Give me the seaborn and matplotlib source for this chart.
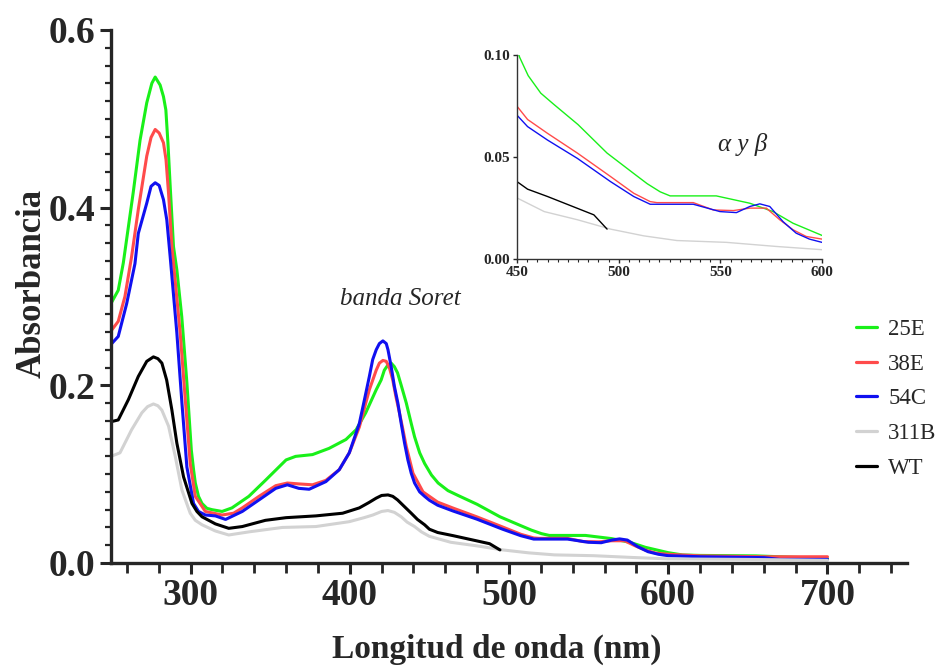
import numpy as np
import pandas as pd
import matplotlib
matplotlib.use("Agg")
import matplotlib.pyplot as plt
from matplotlib.ticker import MultipleLocator, FormatStrFormatter
import seaborn as sns

# UV-Vis absorption spectra of the cytochrome variants
nm_25E = [250, 254.6, 257.8, 264, 268.3, 272.5, 275.7, 277.8, 280.9, 283, 284.5, 285.8,
          287.2, 289.3, 291.4, 294.5, 297.7, 300.5, 301.9, 303, 305, 307.2, 310.3, 313.5,
          319.8, 326, 336.6, 347, 360, 366, 376.6, 387, 397.6, 404, 410, 416.6, 419.7, 421.7,
          424, 426, 428, 430, 432.3, 435.5, 438.6, 440.7, 443.9, 447, 451.3, 455.5, 461.7,
          468, 480, 494.3, 507.4, 514, 520.4, 525.3, 548, 564.5, 575.9, 585.7, 600, 609,
          620, 655, 700]
abs_25E = [0.292, 0.307, 0.338, 0.417, 0.476, 0.518, 0.540, 0.547, 0.538, 0.525, 0.510, 0.473,
           0.425, 0.356, 0.330, 0.277, 0.203, 0.127, 0.105, 0.090, 0.075, 0.067, 0.0615, 0.060,
           0.058, 0.062, 0.075, 0.093, 0.116, 0.120, 0.122, 0.129, 0.139, 0.150, 0.169, 0.195, 0.206, 0.217,
           0.223, 0.225, 0.221, 0.214, 0.200, 0.180, 0.157, 0.142, 0.124, 0.112, 0.099, 0.090, 0.0814,
           0.076, 0.066, 0.052, 0.042, 0.037, 0.033, 0.031, 0.031, 0.0274, 0.0233, 0.0176, 0.0116, 0.009,
           0.0085, 0.008, 0.005]

nm_38E = [250, 254.6, 258.8, 263, 267.2, 272.5, 275.2, 277.8, 280.3, 283, 284.6, 286.2,
          288.3, 293.5, 296.7, 299.8, 303, 309.3, 319.8, 327, 332.5, 343, 353.5, 360.8, 368,
          376.6, 385, 393.4, 399.7, 406, 412.3, 416.6, 418.6, 420.8, 422.9, 425, 427, 429,
          431.2, 433.4, 435.5, 437.6, 439.7, 443, 446, 450, 455.2, 465, 479.7, 496, 507.4,
          515.5, 518.8, 536.7, 546.5, 556.4, 564.5, 572.6, 579.2, 585.7, 592.2, 600, 620,
          660, 700]
abs_38E = [0.261, 0.272, 0.300, 0.345, 0.398, 0.458, 0.479, 0.488, 0.484, 0.473, 0.454, 0.416,
           0.356, 0.259, 0.184, 0.112, 0.075, 0.058, 0.054, 0.056, 0.062, 0.075, 0.087, 0.090, 0.089,
           0.088, 0.093, 0.105, 0.124, 0.153, 0.195, 0.217, 0.225, 0.228, 0.227, 0.219, 0.206, 0.187,
           0.169, 0.150, 0.131, 0.116, 0.101, 0.090, 0.080, 0.075, 0.0685, 0.0617, 0.052, 0.0405, 0.0323,
           0.0282, 0.0277, 0.0277, 0.0241, 0.0238, 0.025, 0.025, 0.0193, 0.0144, 0.0111, 0.0098, 0.008,
           0.007, 0.007]

nm_54C = [250, 254.6, 259.9, 265.1, 267.2, 272.5, 275.2, 277.8, 280.3, 283, 285.1, 287.2,
          291.4, 294.6, 297.7, 301.9, 305, 309.3, 315.6, 322, 332.5, 343, 353.5, 360.8, 368,
          374.5, 385, 393.4, 399.7, 406, 409, 412.3, 414.4, 416.6, 418.6, 420.8, 422.9, 424,
          426, 428, 430.2, 432.3, 434.4, 436.5, 438.6, 440.7, 443.9, 447, 450, 455.2, 465,
          479.7, 496, 507.4, 515.5, 536.7, 549.8, 557.9, 564.5, 569.4, 574.3, 580.8, 587.3,
          593.8, 600, 620, 660, 670, 700]
abs_54C = [0.246, 0.255, 0.292, 0.337, 0.371, 0.405, 0.424, 0.428, 0.425, 0.409, 0.386, 0.345,
           0.259, 0.180, 0.108, 0.067, 0.058, 0.054, 0.053, 0.049, 0.058, 0.071, 0.084, 0.088, 0.084,
           0.083, 0.0916, 0.105, 0.124, 0.157, 0.182, 0.210, 0.229, 0.240, 0.247, 0.250, 0.247, 0.240,
           0.221, 0.199, 0.180, 0.157, 0.135, 0.116, 0.101, 0.090, 0.080, 0.075, 0.0706, 0.065, 0.0584,
           0.0494, 0.038, 0.0307, 0.0269, 0.0269, 0.0233, 0.0228, 0.0258, 0.0271, 0.0258, 0.0184, 0.0127,
           0.0098, 0.0082, 0.007, 0.006, 0.004, 0.004]

nm_311B = [250, 255.7, 263, 269.4, 273, 276.7, 279.5, 282, 286.2, 290.4, 294.6, 299.8,
           303, 307.2, 315.6, 324, 336.6, 357.7, 378.7, 399.7, 409, 414.5, 420, 424, 428,
           432.3, 436, 440.7, 445, 450, 463.4, 479.7, 496, 512.3, 528.6, 553, 577.4, 600,
           650, 700]
abs_311B = [0.120, 0.124, 0.150, 0.169, 0.176, 0.179, 0.177, 0.172, 0.154, 0.120, 0.082, 0.056,
            0.048, 0.043, 0.036, 0.0315, 0.035, 0.040, 0.041, 0.0465, 0.051, 0.054, 0.058, 0.059, 0.057,
            0.052, 0.046, 0.041, 0.035, 0.030, 0.0233, 0.0193, 0.0147, 0.0114, 0.0091, 0.0082, 0.0062,
            0.0046, 0.004, 0.003]

nm_WT = [250, 254.6, 261, 267.2, 272.5, 276.7, 279.5, 282, 285, 288.3, 291.4, 295.6,
         300.9, 304, 307.2, 315.6, 324, 332.5, 347, 360, 378.7, 395.5, 406, 412, 416.6,
         420, 424, 427, 430, 434, 438.6, 442.5, 447, 450, 455.2, 465, 487.8, 494.3]
abs_WT = [0.159, 0.161, 0.184, 0.210, 0.227, 0.232, 0.230, 0.225, 0.206, 0.172, 0.135, 0.097,
          0.067, 0.058, 0.052, 0.044, 0.039, 0.041, 0.048, 0.051, 0.053, 0.056, 0.062, 0.068, 0.073,
          0.076, 0.0766, 0.075, 0.071, 0.064, 0.056, 0.049, 0.043, 0.038, 0.0343, 0.0307, 0.0217, 0.0147]

samples = ["25E", "38E", "54C", "311B", "WT"]
colors = ["#19f019", "#ff4b4b", "#1010f0", "#d2d2d2", "#000000"]

series = {
    "25E": (nm_25E, abs_25E),
    "38E": (nm_38E, abs_38E),
    "54C": (nm_54C, abs_54C),
    "311B": (nm_311B, abs_311B),
    "WT": (nm_WT, abs_WT),
}
df = pd.concat(
    [pd.DataFrame({"nm": x, "abs": y, "muestra": k}) for k, (x, y) in series.items()],
    ignore_index=True,
)
palette = dict(zip(samples, colors))

sns.set_style("ticks")
plt.rcParams["font.family"] = ["Liberation Serif", "DejaVu Serif"]
plt.rcParams["lines.solid_joinstyle"] = "round"
plt.rcParams["lines.solid_capstyle"] = "round"

fig = plt.figure(figsize=(9.4, 6.66), dpi=100)
ax = fig.add_axes([0.118, 0.1547, 0.847, 0.8003])

sns.lineplot(data=df, x="nm", y="abs", hue="muestra", hue_order=samples, palette=palette,
             sort=False, estimator=None, lw=2.2, ax=ax)

ax.set_xlim(250, 750)
ax.set_ylim(0, 0.6)
ax.xaxis.set_major_locator(MultipleLocator(100))
ax.xaxis.set_minor_locator(MultipleLocator(20))
ax.yaxis.set_major_locator(MultipleLocator(0.2))
ax.yaxis.set_minor_locator(MultipleLocator(0.02))
ax.yaxis.set_major_formatter(FormatStrFormatter("%.1f"))
ax.set_xticks([300, 400, 500, 600, 700])
for s in ["top", "right"]:
    ax.spines[s].set_visible(False)
for s in ["left", "bottom"]:
    ax.spines[s].set_linewidth(2.4)
ax.tick_params(which="major", direction="out", length=8, width=2.2, labelsize=27, pad=3)
ax.tick_params(axis="x", which="minor", direction="out", length=7, width=2.0)
ax.tick_params(axis="y", which="minor", direction="out", length=4, width=1.6)
for lab in ax.get_xticklabels() + ax.get_yticklabels():
    lab.set_fontweight("bold")
ax.set_xlabel("Longitud de onda (nm)", fontsize=24, fontweight="bold", labelpad=15)
ax.set_ylabel("Absorbancia", fontsize=25, fontweight="bold", labelpad=0)
ax.xaxis.label.set_x(0.485)
ax.yaxis.label.set_y(0.525)

sns.move_legend(ax, loc="upper left", bbox_to_anchor=(0.91, 0.497), frameon=False, title=None,
                fontsize=16.5, handlelength=0.9, handletextpad=0.5, labelspacing=0.6)
for line in ax.get_legend().get_lines():
    line.set_linewidth(2.3)

ax.text(432, 0.297, "banda Soret", fontsize=18, style="italic", ha="center", va="center")

# Zoomed view of the Q bands
ins = fig.add_axes([0.55, 0.611, 0.3245, 0.306])
sns.lineplot(data=df, x="nm", y="abs", hue="muestra", hue_order=samples, palette=palette,
             sort=False, estimator=None, lw=1.0, ax=ins, legend=False)
ins.set_xlim(450, 600)
ins.set_ylim(0, 0.1)
ins.xaxis.set_major_locator(MultipleLocator(50))
ins.xaxis.set_minor_locator(MultipleLocator(5))
ins.yaxis.set_major_locator(MultipleLocator(0.05))
ins.yaxis.set_major_formatter(FormatStrFormatter("%.2f"))
for s in ["top", "right"]:
    ins.spines[s].set_visible(False)
for s in ["left", "bottom"]:
    ins.spines[s].set_linewidth(1.0)
    ins.spines[s].set_color("#333333")
ins.tick_params(which="major", direction="out", length=3, width=1.0, labelsize=11, pad=2)
ins.tick_params(which="minor", direction="out", length=2, width=0.8)
for lab in ins.get_xticklabels() + ins.get_yticklabels():
    lab.set_fontweight("bold")
ins.set_xlabel("")
ins.set_ylabel("")
ins.text(561, 0.056, "α y β", fontsize=18, style="italic", ha="center", va="center")

fig.savefig("out.png", dpi=100)
